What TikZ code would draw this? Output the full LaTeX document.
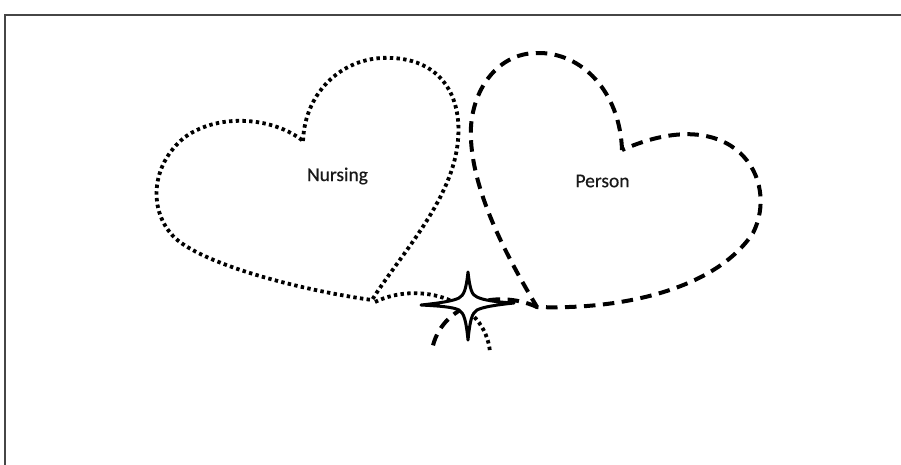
\documentclass[tikz,border=0pt]{standalone}
\usepackage{fontspec}
\setmainfont{Carlito}[FakeBold=0.4]
\begin{document}
\begin{tikzpicture}[x=1pt,y=-1pt,
  framestyle/.style={line width=1.6pt,draw={rgb,255:red,70;green,70;blue,70}},
  dotline/.style={line width=3.8pt,dash pattern=on 3.4pt off 3.3pt,line cap=butt},
  dashline/.style={line width=4pt,dash pattern=on 11.5pt off 7.5pt,line cap=butt},
  starstyle/.style={line width=3pt,fill=white,line join=round},
  label/.style={font=\fontsize{19.5}{22}\selectfont,text=black!90,inner sep=0pt}]
\useasboundingbox (0,0) rectangle (901,464);
\fill[white] (0,0) rectangle (901,464);
% frame
\draw[framestyle] (5,470) -- (5,15) -- (905,15);
% Nursing heart (dotted)
\draw[dotline] (303,141) .. controls (305,90) and (345,55) .. (392,58)
  .. controls (440,60) and (462,95) .. (458,140)
  .. controls (453,200) and (400,255) .. (372,300)
  .. controls (300,290) and (205,265) .. (175,238)
  .. controls (148,212) and (150,165) .. (185,137)
  .. controls (220,112) and (275,118) .. (303,141);
% dotted tail
\draw[dotline] (375,302) .. controls (420,280) and (485,300) .. (490,352);
% Person heart (dashed)
\draw[dashline] (622,150) .. controls (620,92) and (582,52) .. (537,53)
  .. controls (495,53) and (468,95) .. (471,140)
  .. controls (474,200) and (515,270) .. (537,307)
  .. controls (620,310) and (715,290) .. (753,233)
  .. controls (780,180) and (735,100) .. (622,150);
% dashed tail
\draw[dashline] (537,307) .. controls (495,288) and (440,305) .. (432,350);
% star
\draw[starstyle]
  (468,272) .. controls (470,290) and (472,295) .. (477,297)
  .. controls (483,300) and (495,302) .. (514,303)
  .. controls (495,305) and (483,307) .. (477,310)
  .. controls (472,313) and (470,320) .. (468,340)
  .. controls (466,320) and (464,313) .. (459,310)
  .. controls (453,307) and (440,306) .. (421,305)
  .. controls (440,303) and (453,301) .. (459,298)
  .. controls (464,295) and (466,290) .. (468,272) -- cycle;
% labels
\node[label] (nursing) at (337.5,176) {Nursing};
\node[label] (person) at (602.5,181) {Person};
\end{tikzpicture}
\end{document}
